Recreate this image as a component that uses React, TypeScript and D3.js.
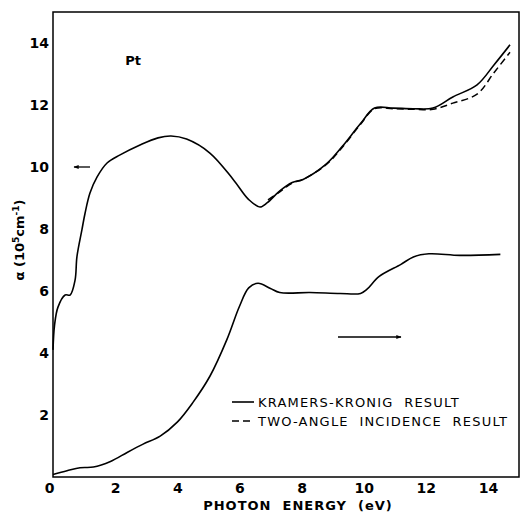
import React, { useEffect, useRef } from "react";
import * as d3 from "d3";

// upper curve (left axis), Kramers-Kronig result
const kkX = [0, 0.05, 0.16, 0.39, 0.55, 0.71, 0.77, 0.93, 1.03, 1.19, 1.42, 1.74, 2.16, 2.8, 3.38, 3.8, 4.3, 5.05, 5.8, 6.3, 6.66, 6.9, 7.3, 7.7, 8.05, 8.8, 9.3, 9.9, 10.35, 10.95, 11.6, 12.23, 12.87, 13.65, 14.2, 14.71];
const kkY = [4.1, 4.9, 5.48, 5.87, 5.87, 6.35, 7.1, 7.97, 8.5, 9.16, 9.68, 10.13, 10.39, 10.71, 10.94, 11.0, 10.9, 10.45, 9.6, 8.95, 8.71, 8.85, 9.23, 9.5, 9.6, 10.1, 10.65, 11.4, 11.9, 11.9, 11.88, 11.9, 12.26, 12.65, 13.3, 13.94];

// two-angle incidence result (dashed)
const taX = [6.92, 7.3, 7.7, 8.05, 8.8, 9.3, 9.9, 10.35, 10.95, 11.6, 12.23, 12.87, 13.65, 14.2, 14.71];
const taY = [8.94, 9.2, 9.48, 9.6, 10.08, 10.62, 11.38, 11.88, 11.88, 11.86, 11.86, 12.06, 12.35, 13.05, 13.7];

// lower curve (right axis)
const lowX = [0, 0.45, 0.87, 1.3, 1.85, 2.4, 2.9, 3.45, 4.0, 4.5, 5.05, 5.6, 6.0, 6.3, 6.6, 7.0, 7.3, 8.27, 9.24, 9.9, 10.1, 10.5, 11.2, 11.6, 12.1, 13.1, 14.4];
const lowY = [0.08, 0.2, 0.3, 0.32, 0.5, 0.8, 1.06, 1.32, 1.77, 2.4, 3.25, 4.44, 5.5, 6.1, 6.25, 6.08, 5.95, 5.95, 5.92, 5.92, 6.05, 6.47, 6.86, 7.1, 7.2, 7.15, 7.18];

const xTicks = [0, 2, 4, 6, 8, 10, 12, 14];
const yTicks = [2, 4, 6, 8, 10, 12, 14];

const App = () => {
  const svgRef = useRef<SVGSVGElement>(null);

  useEffect(() => {
    const svg = d3.select(svgRef.current);
    svg.selectAll("*").remove();

    const x = d3.scaleLinear().domain([0, 15]).range([53, 519]);
    const y = d3.scaleLinear().domain([0, 15]).range([477, 12]);
    const font = "'DejaVu Sans', sans-serif";

    // frame
    svg.append("rect")
      .attr("x", x(0)).attr("y", y(15))
      .attr("width", x(15) - x(0)).attr("height", y(0) - y(15))
      .attr("fill", "none").attr("stroke", "#000").attr("stroke-width", 1.5);

    // axes
    const xa = svg.append("g")
      .attr("transform", `translate(0, ${y(0)})`)
      .call(d3.axisBottom(x).tickValues(xTicks).tickSize(0).tickPadding(6).tickFormat(d3.format("d")));
    xa.select(".domain").remove();
    xa.selectAll("text").attr("font-size", 14).attr("font-weight", "bold").attr("font-family", font).attr("fill", "#000");
    xa.selectAll("g.tick").filter((d) => d === 0).select("text").attr("dx", -4);

    const ya = svg.append("g")
      .attr("transform", `translate(${x(0)}, 0)`)
      .call(d3.axisLeft(y).tickValues(yTicks).tickSize(0).tickPadding(4).tickFormat(d3.format("d")));
    ya.select(".domain").remove();
    ya.selectAll("text").attr("font-size", 14).attr("font-weight", "bold").attr("font-family", font).attr("fill", "#000");

    const line = d3.line<[number, number]>()
      .x(d => x(d[0]))
      .y(d => y(d[1]))
      .curve(d3.curveCatmullRom.alpha(0.5));

    const kk = kkX.map((v, i) => [v, kkY[i]] as [number, number]);
    const ta = taX.map((v, i) => [v, taY[i]] as [number, number]);
    const low = lowX.map((v, i) => [v, lowY[i]] as [number, number]);

    svg.append("path").attr("d", line(kk)).attr("fill", "none").attr("stroke", "#000").attr("stroke-width", 1.6);
    svg.append("path").attr("d", line(ta)).attr("fill", "none").attr("stroke", "#000").attr("stroke-width", 1.5)
      .attr("stroke-dasharray", "7,4");
    svg.append("path").attr("d", line(low)).attr("fill", "none").attr("stroke", "#000").attr("stroke-width", 1.6);

    // arrows
    svg.append("defs").append("marker")
      .attr("id", "ah").attr("viewBox", "0 0 10 10").attr("refX", 9).attr("refY", 5)
      .attr("markerWidth", 6).attr("markerHeight", 4).attr("orient", "auto")
      .append("path").attr("d", "M0,1L10,5L0,9Z").attr("fill", "#000");
    svg.append("line").attr("x1", 90).attr("y1", 167).attr("x2", 74).attr("y2", 167)
      .attr("stroke", "#000").attr("stroke-width", 1.3).attr("marker-end", "url(#ah)");
    svg.append("line").attr("x1", 338).attr("y1", 337).attr("x2", 401).attr("y2", 337)
      .attr("stroke", "#000").attr("stroke-width", 1.3).attr("marker-end", "url(#ah)");

    // Pt label
    svg.append("text").attr("x", 133).attr("y", 65).attr("text-anchor", "middle")
      .attr("font-family", font).attr("font-size", 13).attr("font-weight", "bold").text("Pt");

    // legend
    svg.append("line").attr("x1", 232).attr("x2", 254).attr("y1", 402).attr("y2", 402)
      .attr("stroke", "#000").attr("stroke-width", 1.6);
    svg.append("line").attr("x1", 232).attr("x2", 254).attr("y1", 421).attr("y2", 421)
      .attr("stroke", "#000").attr("stroke-width", 1.5).attr("stroke-dasharray", "7,4");
    svg.append("text").attr("x", 258).attr("y", 407).attr("font-family", font).attr("font-size", 13)
      .attr("letter-spacing", 1.2).style("white-space", "pre").text("KRAMERS-KRONIG  RESULT");
    svg.append("text").attr("x", 258).attr("y", 426).attr("font-family", font).attr("font-size", 13)
      .attr("letter-spacing", 1.2).style("white-space", "pre").text("TWO-ANGLE  INCIDENCE  RESULT");

    // x label
    svg.append("text").attr("x", 298).attr("y", 510).attr("text-anchor", "middle")
      .attr("font-family", font).attr("font-size", 13).attr("font-weight", "bold")
      .attr("letter-spacing", 1).style("white-space", "pre").text("PHOTON  ENERGY  (eV)");

    // y label
    const yl = svg.append("text").attr("transform", "translate(24, 240) rotate(-90)")
      .attr("text-anchor", "middle").attr("font-family", font).attr("font-size", 13).attr("font-weight", "bold");
    yl.append("tspan").text("α (10");
    yl.append("tspan").attr("font-size", 9).attr("dy", -5).text("5");
    yl.append("tspan").attr("dy", 5).text("cm");
    yl.append("tspan").attr("font-size", 9).attr("dy", -5).text("-1");
    yl.append("tspan").attr("dy", 5).text(")");
  }, []);

  return <svg ref={svgRef} width={521} height={514} style={{ position: "absolute", left: 0, top: 0, background: "#fff" }} />;
};

export default App;
